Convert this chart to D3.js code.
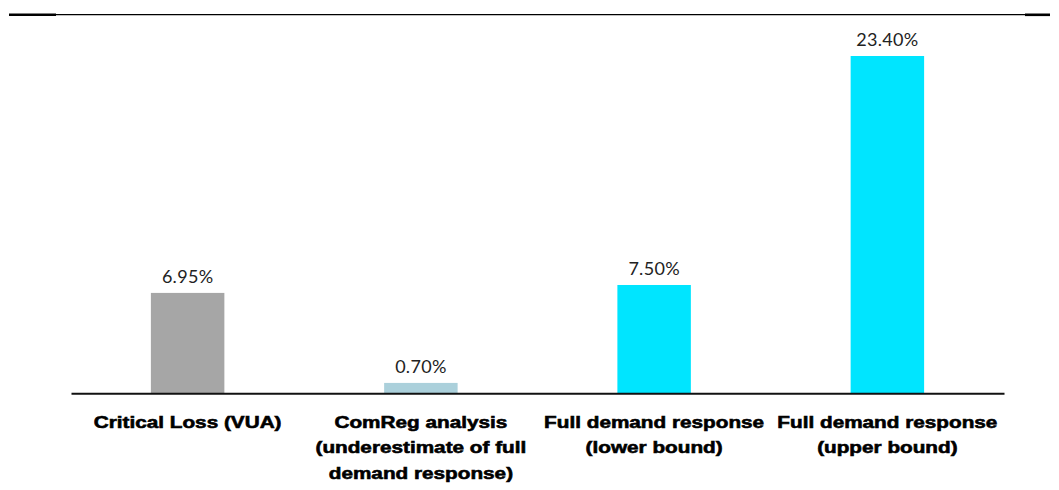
<!DOCTYPE html>
<html>
<head>
<meta charset="utf-8">
<script src="https://cdn.jsdelivr.net/npm/d3@7"></script>
<style>
  body { margin: 0; background: #fff; }
  #chart { width: 1059px; height: 490px; }
</style>
</head>
<body>
<div id="chart"></div>
<script>
// chart data
var categories = ["Critical Loss (VUA)", "ComReg analysis", "Full demand response (lower)", "Full demand response (upper)"];
var categoryLines = [
    ["Critical Loss (VUA)"],
    ["ComReg analysis", "(underestimate of full", "demand response)"],
    ["Full demand response", "(lower bound)"],
    ["Full demand response", "(upper bound)"]
];
var values = [6.95, 0.70, 7.50, 23.40];
var valueLabels = ["6.95%", "0.70%", "7.50%", "23.40%"];
var barColors = ["#a6a6a6", "#abd0db", "#00e5ff", "#00e5ff"];

var svgWidth = 1059, svgHeight = 490;
var plotLeft = 71, plotRight = 1004, baseY = 393;

var svg = d3.select("#chart").append("svg")
    .attr("width", svgWidth)
    .attr("height", svgHeight);

var xScale = d3.scaleBand()
    .domain(categories)
    .range([plotLeft, plotRight])
    .paddingInner(0.685)
    .paddingOuter(0.3425);

var yScale = d3.scaleLinear()
    .domain([0, 23.4])
    .range([baseY, 56]);

// top rule, with the heavier ends
svg.append("line")
    .attr("x1", 56).attr("x2", 1025)
    .attr("y1", 14.6).attr("y2", 14.6)
    .attr("stroke", "#000").attr("stroke-width", 1.3);
svg.append("line")
    .attr("x1", 9).attr("x2", 56)
    .attr("y1", 14.8).attr("y2", 14.8)
    .attr("stroke", "#000").attr("stroke-width", 2.6);
svg.append("line")
    .attr("x1", 1025).attr("x2", 1050)
    .attr("y1", 14.8).attr("y2", 14.8)
    .attr("stroke", "#000").attr("stroke-width", 2.6);

// bars
svg.selectAll(".bar")
    .data(values)
    .enter().append("rect")
    .attr("class", "bar")
    .attr("x", function(d, i) { return xScale(categories[i]); })
    .attr("width", xScale.bandwidth())
    .attr("y", function(d) { return yScale(d); })
    .attr("height", function(d) { return baseY - yScale(d); })
    .attr("fill", function(d, i) { return barColors[i]; });

// value labels
svg.selectAll(".value")
    .data(values)
    .enter().append("text")
    .attr("class", "value")
    .attr("x", function(d, i) { return xScale(categories[i]) + xScale.bandwidth() / 2; })
    .attr("y", function(d) { return yScale(d) - 10; })
    .attr("text-anchor", "middle")
    .style("font-family", "Lato, 'Open Sans', sans-serif")
    .style("font-size", "18px")
    .style("letter-spacing", "0.3px")
    .style("fill", "#222")
    .text(function(d, i) { return valueLabels[i]; });

// x axis line
var xAxis = d3.axisBottom(xScale).tickSize(0).tickFormat("");
var axisG = svg.append("g")
    .attr("transform", "translate(0," + (baseY + 0.3) + ")")
    .call(xAxis);
axisG.select(".domain")
    .attr("stroke", "#111")
    .attr("stroke-width", 2);

// category labels (wide heavy sans)
var catG = svg.selectAll(".cat")
    .data(categoryLines)
    .enter().append("g")
    .attr("class", "cat")
    .attr("transform", function(d, i) {
        return "translate(" + (xScale(categories[i]) + xScale.bandwidth() / 2) + ",427.5) scale(1.22,1)";
    });

catG.selectAll("text")
    .data(function(d) { return d; })
    .enter().append("text")
    .attr("x", 0)
    .attr("y", function(d, j) { return j * 26; })
    .attr("text-anchor", "middle")
    .style("font-family", "'Liberation Sans', Arial, sans-serif")
    .style("font-weight", "bold")
    .style("font-size", "17px")
    .style("fill", "#000")
    .style("stroke", "#000")
    .style("stroke-width", "0.6px")
    .text(function(d) { return d; });
</script>
</body>
</html>
